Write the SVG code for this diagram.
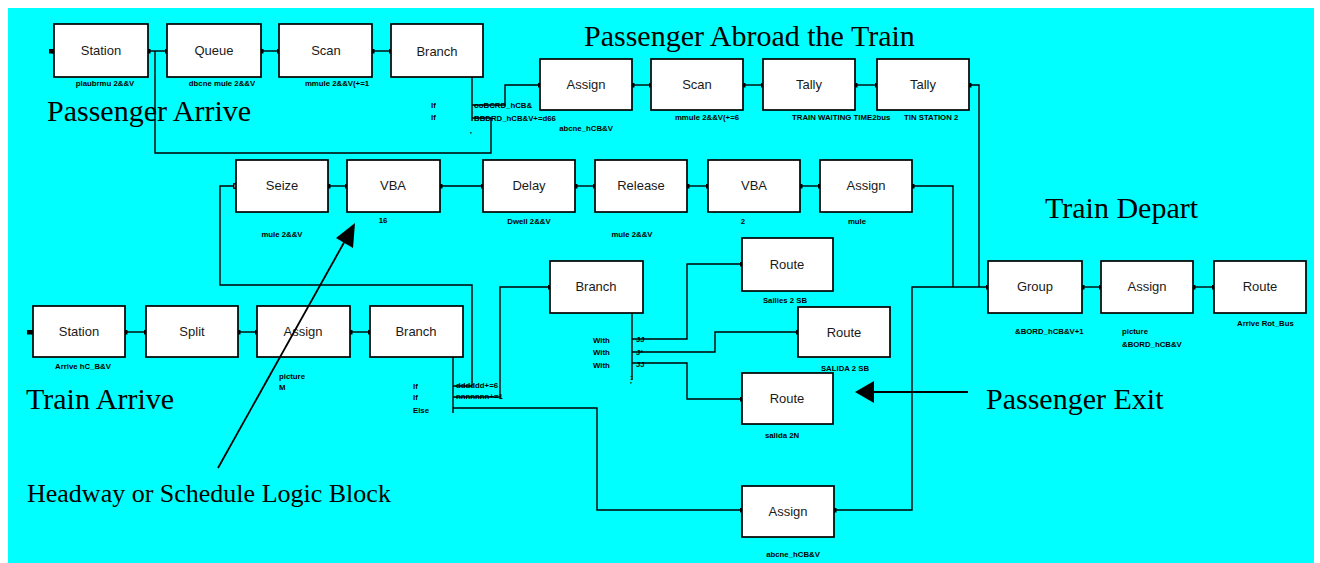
<svg xmlns="http://www.w3.org/2000/svg" width="1320" height="563" viewBox="0 0 1320 563">
<defs>
<marker id="port" viewBox="0 0 6 6" refX="3" refY="3" markerWidth="5" markerHeight="5" markerUnits="userSpaceOnUse"><rect x="0" y="0" width="6" height="6" fill="#000"/></marker>
<marker id="portO" viewBox="0 0 6 6" refX="3" refY="3" markerWidth="6" markerHeight="6" markerUnits="userSpaceOnUse"><rect x="0.8" y="0.8" width="4.4" height="4.4" fill="#fff" stroke="#000" stroke-width="1.4"/></marker>
</defs>
<style>
.blk{fill:#fff;stroke:#000;stroke-width:1.7}
.nt{font-family:"Liberation Sans",Arial,sans-serif;font-size:13px;fill:#1a1a1a;text-anchor:middle}
.sl{font-family:"Liberation Sans",Arial,sans-serif;font-size:7.8px;font-weight:bold;fill:#000}
.c{text-anchor:middle}
.big{font-family:"Liberation Serif","Times New Roman",serif;font-size:30px;fill:#000}
.note{font-family:"Liberation Serif","Times New Roman",serif;font-size:26px;fill:#000}
.w{fill:none;stroke:#000;stroke-width:1.4}
.p{marker-start:url(#port);marker-end:url(#port)}
</style>
<rect x="0" y="0" width="1320" height="563" fill="#fff"/>
<rect x="8" y="8" width="1306" height="555" fill="#00ffff"/>

<g id="connectors">
<path class="w p" d="M51,51 H54"/>
<path class="w p" d="M148,51 H167"/>
<path class="w p" d="M261,51 H279"/>
<path class="w p" d="M372,51 H391"/>
<path class="w" d="M472,77 V121"/>
<path class="w" d="M472,105 H505 V85 H540" marker-end="url(#port)"/>
<path class="w" d="M472,118 H491 V153 H155 V51"/>
<path class="w p" d="M632,85 H651"/>
<path class="w p" d="M743,85 H763"/>
<path class="w p" d="M855,85 H877"/>
<path class="w" d="M969,85 H979 V287" marker-start="url(#port)"/>
<path class="w" d="M453,357 V413"/>
<path class="w" d="M453,386 H472 V285 H220 V186 H236" marker-end="url(#portO)"/>
<path class="w" d="M453,397 H500 V287 H550" marker-end="url(#port)"/>
<path class="w" d="M453,408 H597 V510 H742" marker-end="url(#port)"/>
<path class="w p" d="M328,186 H347"/>
<path class="w p" d="M440,186 H483"/>
<path class="w p" d="M575,186 H595"/>
<path class="w p" d="M687,186 H708"/>
<path class="w p" d="M800,186 H820"/>
<path class="w" d="M912,186 H953 V287" marker-start="url(#port)"/>
<path class="w" d="M632,313 V380"/>
<path class="w" d="M632,339 H687 V264 H742" marker-end="url(#port)"/>
<path class="w" d="M632,352 H715 V332 H798" marker-end="url(#port)"/>
<path class="w" d="M632,363 H687 V399 H742" marker-end="url(#port)"/>
<path class="w" d="M834,510 H912 V287 H988" marker-start="url(#port)" marker-end="url(#port)"/>
<path class="w p" d="M1082,287 H1101"/>
<path class="w p" d="M1193,287 H1214"/>
<path class="w p" d="M29,332 H33"/>
<path class="w p" d="M125,332 H146"/>
<path class="w p" d="M238,332 H257"/>
<path class="w p" d="M350,332 H370"/>
</g>

<g id="n-station1"><rect class="blk" x="54" y="24" width="94" height="53"/><text class="nt" x="101" y="55">Station</text><text class="sl c" x="105" y="86">plaubrmu 2&amp;&amp;V</text></g>
<g id="n-queue"><rect class="blk" x="167" y="24" width="94" height="53"/><text class="nt" x="214" y="55">Queue</text><text class="sl c" x="222" y="86">dbcne mule 2&amp;&amp;V</text></g>
<g id="n-scan1"><rect class="blk" x="279" y="24" width="93" height="53"/><text class="nt" x="326" y="55">Scan</text><text class="sl c" x="337" y="86">mmule 2&amp;&amp;V(+=1</text></g>
<g id="n-branch1"><rect class="blk" x="391" y="24" width="92" height="53"/><text class="nt" x="437" y="56">Branch</text>
<text class="sl" x="431" y="108">If</text><text class="sl" x="431" y="120">If</text><text class="sl" x="470" y="137">'</text>
<text class="sl" x="474" y="108">ooBCRD_hCB&amp;</text><text class="sl" x="474" y="121">BBDRD_hCB&amp;V+=d66</text></g>

<g id="n-assign1"><rect class="blk" x="540" y="59" width="92" height="51"/><text class="nt" x="586" y="89">Assign</text><text class="sl c" x="586" y="131">abcne_hCB&amp;V</text></g>
<g id="n-scan2"><rect class="blk" x="651" y="59" width="92" height="51"/><text class="nt" x="697" y="89">Scan</text><text class="sl c" x="707" y="120">mmule 2&amp;&amp;V(+=6</text></g>
<g id="n-tally1"><rect class="blk" x="763" y="59" width="92" height="51"/><text class="nt" x="809" y="89">Tally</text><text class="sl" x="792" y="120">TRAIN WAITING TIME2bus</text></g>
<g id="n-tally2"><rect class="blk" x="877" y="59" width="92" height="51"/><text class="nt" x="923" y="89">Tally</text><text class="sl" x="904" y="120">TIN STATION 2</text></g>

<g id="n-seize"><rect class="blk" x="236" y="160" width="92" height="52"/><text class="nt" x="282" y="190">Seize</text><text class="sl c" x="282" y="237">mule 2&amp;&amp;V</text></g>
<g id="n-vba1"><rect class="blk" x="347" y="160" width="93" height="52"/><text class="nt" x="393" y="190">VBA</text><text class="sl c" x="383" y="223">16</text></g>
<g id="n-delay"><rect class="blk" x="483" y="160" width="92" height="52"/><text class="nt" x="529" y="190">Delay</text><text class="sl c" x="529" y="224">Dwell 2&amp;&amp;V</text></g>
<g id="n-release"><rect class="blk" x="595" y="160" width="92" height="52"/><text class="nt" x="641" y="190">Release</text><text class="sl c" x="632" y="237">mule 2&amp;&amp;V</text></g>
<g id="n-vba2"><rect class="blk" x="708" y="160" width="92" height="52"/><text class="nt" x="754" y="190">VBA</text><text class="sl c" x="743" y="224">2</text></g>
<g id="n-assign2"><rect class="blk" x="820" y="160" width="92" height="52"/><text class="nt" x="866" y="190">Assign</text><text class="sl c" x="857" y="224">mule</text></g>

<g id="n-station2"><rect class="blk" x="33" y="306" width="92" height="51"/><text class="nt" x="79" y="336">Station</text><text class="sl c" x="83" y="369">Arrive hC_B&amp;V</text></g>
<g id="n-split"><rect class="blk" x="146" y="306" width="92" height="51"/><text class="nt" x="192" y="336">Split</text></g>
<g id="n-assign3"><rect class="blk" x="257" y="306" width="93" height="51"/><text class="nt" x="303" y="336">Assign</text><text class="sl" x="279" y="379">picture</text><text class="sl" x="279" y="390">M</text></g>
<g id="n-branch2"><rect class="blk" x="370" y="306" width="93" height="51"/><text class="nt" x="416" y="336">Branch</text>
<text class="sl" x="413" y="389">If</text><text class="sl" x="413" y="400">If</text><text class="sl" x="413" y="413">Else</text>
<text class="sl" x="456" y="388">dddddd+=6</text><text class="sl" x="456" y="399">nnnnnnn+=1</text></g>

<g id="n-branch3"><rect class="blk" x="550" y="261" width="93" height="52"/><text class="nt" x="596" y="291">Branch</text>
<text class="sl" x="593" y="343">With</text><text class="sl" x="593" y="355">With</text><text class="sl" x="593" y="368">With</text>
<text class="sl" x="636" y="342">JJ</text><text class="sl" x="636" y="355">J*</text><text class="sl" x="636" y="367">JJ</text>
<text class="sl" x="630" y="380">:</text><text class="sl" x="630" y="387">'</text></g>
<g id="n-route1"><rect class="blk" x="742" y="238" width="91" height="53"/><text class="nt" x="787" y="269">Route</text><text class="sl c" x="785" y="303">Sallies 2 SB</text></g>
<g id="n-route2"><rect class="blk" x="798" y="307" width="92" height="50"/><text class="nt" x="844" y="337">Route</text><text class="sl c" x="845" y="371">SALIDA 2 SB</text></g>
<g id="n-route3"><rect class="blk" x="742" y="373" width="91" height="51"/><text class="nt" x="787" y="403">Route</text><text class="sl c" x="782" y="438">salida 2N</text></g>
<g id="n-assign4"><rect class="blk" x="742" y="486" width="92" height="51"/><text class="nt" x="788" y="516">Assign</text><text class="sl c" x="793" y="557">abcne_hCB&amp;V</text></g>

<g id="n-group"><rect class="blk" x="988" y="261" width="94" height="52"/><text class="nt" x="1035" y="291">Group</text><text class="sl" x="1015" y="334">&amp;BORD_hCB&amp;V+1</text></g>
<g id="n-assign5"><rect class="blk" x="1101" y="261" width="92" height="52"/><text class="nt" x="1147" y="291">Assign</text><text class="sl" x="1122" y="334">picture</text><text class="sl" x="1122" y="347">&amp;BORD_hCB&amp;V</text></g>
<g id="n-route4"><rect class="blk" x="1214" y="261" width="92" height="52"/><text class="nt" x="1260" y="291">Route</text><text class="sl" x="1237" y="326">Arrive Rot_Bus</text></g>

<g id="annotations">
<text class="big" x="47" y="121">Passenger Arrive</text>
<text class="big" x="584" y="46">Passenger Abroad the Train</text>
<text class="big" x="1045" y="218">Train Depart</text>
<text class="big" x="26" y="409">Train Arrive</text>
<text class="big" x="986" y="409">Passenger Exit</text>
<text class="note" x="27" y="502">Headway or Schedule Logic Block</text>
<line x1="218" y1="468" x2="346" y2="239" stroke="#000" stroke-width="1.8"/>
<polygon points="355,223 336,238 353,248" fill="#000"/>
<line x1="968" y1="392" x2="872" y2="392" stroke="#000" stroke-width="1.8"/>
<polygon points="855,392 874,381 874,403" fill="#000"/>
</g>
</svg>
